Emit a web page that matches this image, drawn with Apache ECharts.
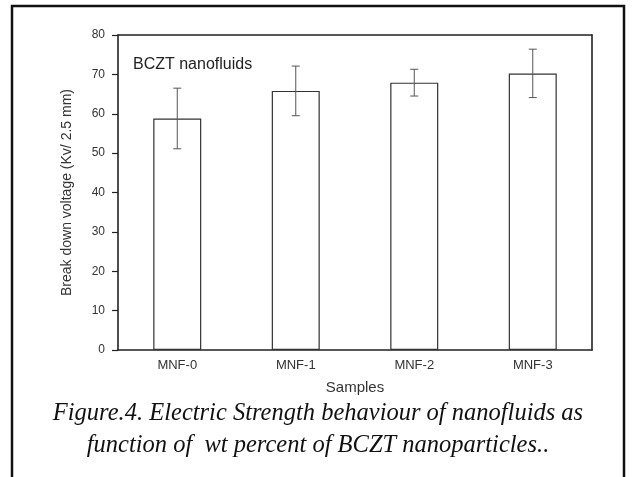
<!DOCTYPE html>
<html><head><meta charset="utf-8">
<script src="https://cdn.jsdelivr.net/npm/echarts@6/dist/echarts.min.js"></script>
<style>html,body{margin:0;padding:0;background:#fff}#c{width:636px;height:477px}</style>
</head><body><div id="c"></div>
<script>
var categories = ['MNF-0', 'MNF-1', 'MNF-2', 'MNF-3'];
var values = [58.8, 65.8, 67.9, 70.2];
var errLow = [51.1, 59.5, 64.5, 64.1];
var errHigh = [66.5, 72.1, 71.3, 76.4];
var yTicks = [0, 10, 20, 30, 40, 50, 60, 70, 80];

var chart = echarts.init(document.getElementById('c'));
var axisCol = '#222';
var sans = 'Liberation Sans, Arial';
chart.setOption({
  animation: false,
  grid: { left: 118, right: 44, top: 35, bottom: 127, containLabel: false },
  xAxis: [{
    type: 'category', data: categories,
    axisLine: { onZero: false, lineStyle: { color: axisCol, width: 1.6 } },
    axisTick: { alignWithLabel: true, length: 5, lineStyle: { color: axisCol, width: 1.2 } },
    axisLabel: { color: '#333', fontFamily: sans, fontSize: 13, margin: 9 },
    name: 'Samples', nameLocation: 'middle', nameGap: 30,
    nameTextStyle: { color: '#333', fontFamily: sans, fontSize: 15 }
  }, {
    type: 'category', data: categories, position: 'top',
    axisLine: { show: true, onZero: false, lineStyle: { color: axisCol, width: 1.6 } },
    axisTick: { show: false }, axisLabel: { show: false }
  }],
  yAxis: [{
    type: 'value', min: yTicks[0], max: yTicks[yTicks.length - 1], interval: 10,
    axisLine: { show: true, onZero: false, lineStyle: { color: axisCol, width: 1.6 } },
    axisTick: { show: true, length: 6, lineStyle: { color: axisCol, width: 1.2 } },
    splitLine: { show: false },
    axisLabel: { color: '#333', fontFamily: sans, fontSize: 12, margin: 13 },
    name: 'Break down voltage (Kv/ 2.5 mm)', nameLocation: 'middle', nameGap: 44,
    nameTextStyle: { color: '#333', fontFamily: sans, fontSize: 14 }
  }, {
    type: 'value', min: 0, max: 80, position: 'right',
    axisLine: { show: true, onZero: false, lineStyle: { color: axisCol, width: 1.6 } },
    axisTick: { show: false }, axisLabel: { show: false }, splitLine: { show: false }
  }],
  series: [{
    type: 'bar', data: values, barWidth: 48,
    itemStyle: { color: '#fff', borderColor: '#333', borderWidth: 1.2 }
  }, {
    type: 'custom',
    data: categories.map(function (c, i) { return [i, errLow[i], errHigh[i]]; }),
    renderItem: function (params, api) {
      var lo = api.coord([api.value(0), api.value(1)]);
      var hi = api.coord([api.value(0), api.value(2)]);
      var w = 4;
      var st = { stroke: '#555', lineWidth: 1 };
      return { type: 'group', children: [
        { type: 'line', shape: { x1: lo[0], y1: lo[1], x2: hi[0], y2: hi[1] }, style: st },
        { type: 'line', shape: { x1: lo[0] - w, y1: lo[1], x2: lo[0] + w, y2: lo[1] }, style: st },
        { type: 'line', shape: { x1: hi[0] - w, y1: hi[1], x2: hi[0] + w, y2: hi[1] }, style: st }
      ]};
    },
    z: 5
  }],
  graphic: [
    { type: 'rect', shape: { x: 12, y: 6, width: 612, height: 480 }, style: { fill: 'none', stroke: '#111', lineWidth: 2.5 } },
    { type: 'text', left: 133, top: 57, style: { text: 'BCZT nanofluids', fontFamily: sans, fontSize: 16, fill: '#222' } },
    { type: 'text', left: 'center', top: 401, style: { text: 'Figure.4. Electric Strength behaviour of nanofluids as', fontFamily: 'Liberation Serif, Times New Roman', fontStyle: 'italic', fontSize: 24.5, fill: '#111' } },
    { type: 'text', left: 'center', top: 433, style: { text: 'function of  wt percent of BCZT nanoparticles..', fontFamily: 'Liberation Serif, Times New Roman', fontStyle: 'italic', fontSize: 24.5, fill: '#111' } }
  ]
});
</script></body></html>
